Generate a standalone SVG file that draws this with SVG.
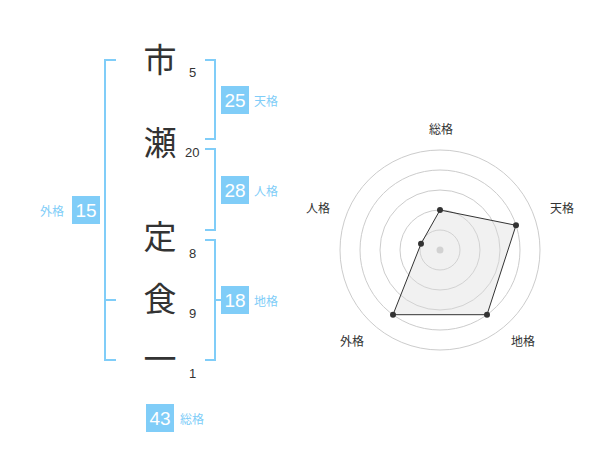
<svg xmlns="http://www.w3.org/2000/svg" width="600" height="470" viewBox="0 0 600 470">
<style>
.ch{font-family:"Noto Sans CJK JP","Noto Sans CJK SC",sans-serif;font-size:33px;fill:#333;text-anchor:middle}
.num{font-family:"Liberation Sans",Arial,sans-serif;font-size:13px;fill:#333}
.br{fill:none;stroke:#80cdf8;stroke-width:2}
.box{fill:#80cdf8}
.bv{font-family:"Liberation Sans",Arial,sans-serif;font-size:19px;fill:#fff;text-anchor:middle}
.bl{font-family:"Noto Sans CJK JP","Noto Sans CJK SC",sans-serif;font-size:12px;fill:#80cdf8}
.ring{fill:none;stroke:#ccc;stroke-width:1}
.rl{font-family:"Noto Sans CJK JP","Noto Sans CJK SC",sans-serif;font-size:12px;fill:#333;text-anchor:middle}
.pt{fill:#333}
</style>
<g id="connectors">
<path class="br" d="M116,60 H105 V360 H116 M105,300 H116"/>
<path class="br" d="M205,60 H215 V139 H205"/>
<path class="br" d="M205,149 H215 V230 H205"/>
<path class="br" d="M205,240 H215 V360 H205 M215,300 H225"/>
</g>
<g id="chars">
<text class="ch" x="160" y="72">市</text>
<text class="ch" x="160" y="155">瀬</text>
<text class="ch" x="160" y="249">定</text>
<text class="ch" x="160" y="311">食</text>
<text class="ch" x="160" y="371">一</text>
</g>
<g id="strokes">
<text class="num" x="189" y="77">5</text>
<text class="num" x="185" y="157">20</text>
<text class="num" x="189" y="258">8</text>
<text class="num" x="189" y="318">9</text>
<text class="num" x="189" y="378">1</text>
</g>
<g id="tenkaku">
<rect class="box" x="221" y="86" width="28" height="28"/>
<text class="bv" x="235" y="107">25</text>
<text class="bl" x="254" y="106">天格</text>
</g>
<g id="jinkaku">
<rect class="box" x="221" y="176" width="28" height="28"/>
<text class="bv" x="235" y="197">28</text>
<text class="bl" x="254" y="196">人格</text>
</g>
<g id="chikaku">
<rect class="box" x="221" y="286" width="28" height="28"/>
<text class="bv" x="235" y="307">18</text>
<text class="bl" x="254" y="306">地格</text>
</g>
<g id="gaikaku">
<rect class="box" x="72" y="196" width="28" height="28"/>
<text class="bv" x="86" y="217">15</text>
<text class="bl" x="40" y="216">外格</text>
</g>
<g id="soukaku">
<rect class="box" x="146" y="404" width="28" height="28"/>
<text class="bv" x="160" y="425">43</text>
<text class="bl" x="180" y="424">総格</text>
</g>
<g id="radar">
<circle class="ring" cx="440" cy="250" r="20"/>
<circle class="ring" cx="440" cy="250" r="40"/>
<circle class="ring" cx="440" cy="250" r="60"/>
<circle class="ring" cx="440" cy="250" r="80"/>
<circle class="ring" cx="440" cy="250" r="100"/>
<circle cx="440" cy="250" r="3.5" fill="#ccc"/>
<polygon points="440,210 516,225.3 487,314.7 393,314.7 421,243.8" fill="#ddd" fill-opacity="0.4" stroke="#333" stroke-width="1"/>
<circle class="pt" cx="440" cy="210" r="3"/>
<circle class="pt" cx="516" cy="225.3" r="3"/>
<circle class="pt" cx="487" cy="314.7" r="3"/>
<circle class="pt" cx="393" cy="314.7" r="3"/>
<circle class="pt" cx="421" cy="243.8" r="3"/>
<text class="rl" x="441" y="134">総格</text>
<text class="rl" x="562" y="213">天格</text>
<text class="rl" x="318" y="213">人格</text>
<text class="rl" x="352" y="346">外格</text>
<text class="rl" x="523" y="346">地格</text>
</g>
</svg>
